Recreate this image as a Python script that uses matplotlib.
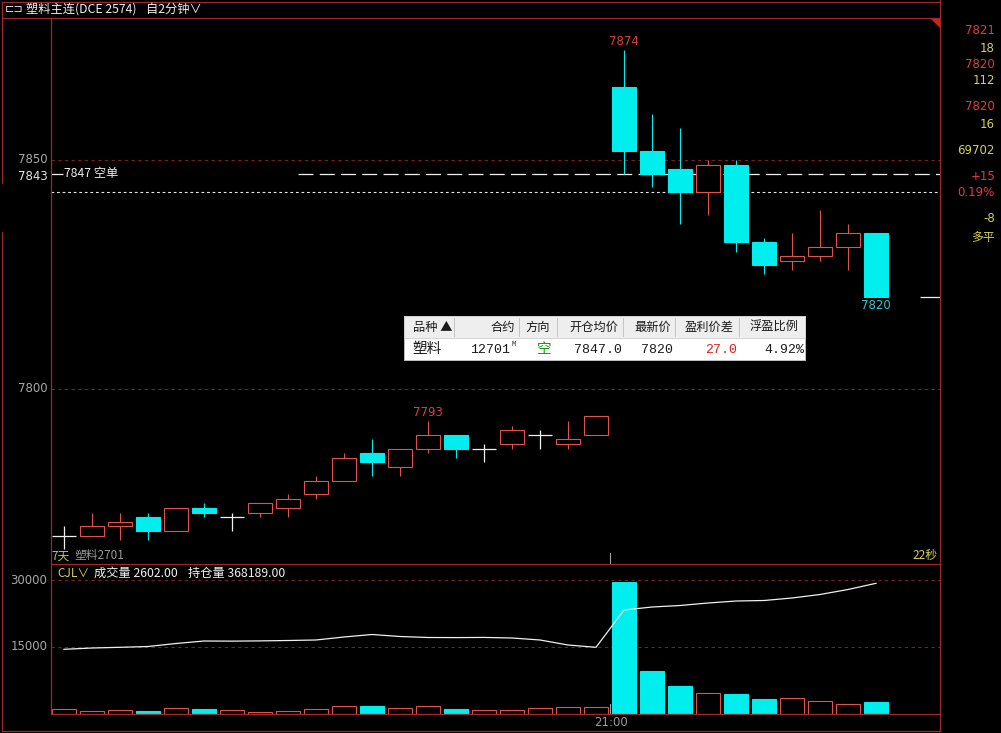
import matplotlib
matplotlib.use('Agg')
import matplotlib.pyplot as plt
from matplotlib.patches import Rectangle, Polygon
from matplotlib.lines import Line2D
from matplotlib.transforms import Affine2D

plt.rcParams['font.family'] = ['Noto Sans CJK SC', 'DejaVu Sans']

# ---------------- data ----------------
opens  = [7768, 7768, 7770, 7772, 7769, 7774, 7772, 7773, 7774, 7777,
          7780, 7786, 7783, 7787, 7790, 7787, 7788, 7790, 7788, 7790,
          7866, 7852, 7848, 7843, 7849, 7832, 7828, 7829, 7831, 7834]
highs  = [7770, 7773, 7773, 7773, 7774, 7775, 7773, 7775, 7777, 7781,
          7786, 7789, 7787, 7793, 7790, 7788, 7792, 7791, 7793, 7794,
          7874, 7860, 7857, 7850, 7850, 7833, 7834, 7839, 7836, 7834]
lows   = [7765, 7768, 7767, 7767, 7769, 7772, 7769, 7772, 7772, 7776,
          7780, 7781, 7781, 7786, 7785, 7784, 7787, 7787, 7787, 7790,
          7847, 7844, 7836, 7838, 7830, 7825, 7826, 7828, 7826, 7820]
closes = [7768, 7770, 7771, 7769, 7774, 7773, 7772, 7775, 7776, 7780,
          7785, 7784, 7787, 7790, 7787, 7787, 7791, 7790, 7789, 7794,
          7852, 7847, 7843, 7849, 7832, 7827, 7829, 7831, 7834, 7820]
volumes = [1120, 670, 900, 740, 1340, 1120, 900, 520, 670, 1120,
           1790, 1860, 1340, 1790, 1190, 900, 900, 1340, 1640, 1640,
           29460, 9700, 6340, 4700, 4550, 3430, 3580, 2910, 2240, 2602]
open_interest = [363899, 363983, 364029, 364081, 364276, 364438, 364430, 364445, 364471, 364504,
                 364699, 364861, 364731, 364666, 364660, 364670, 364634, 364504, 364179, 364029,
                 366453, 366648, 366746, 366908, 367038, 367071, 367234, 367461, 367786, 368189]
high_marks = [13, 20]
low_marks = [29]
session_break = 19.5
session_label = '21:00'
price_ticks = [7800, 7850]
volume_ticks = [15000, 30000]
entry_price = 7847
ref_price = 7843

title_text = '塑料主连(DCE 2574)'
period_text = '自2分钟∨'
right_panel_texts = ['7821', '18', '7820', '112', '7820', '16', '69702', '+15', '0.19%', '-8', '多平']
right_panel_kinds = ['r', 'y', 'r', 'y', 'r', 'y', 'y', 'r', 'r', 'y', 'y']

table_headers = ['品种 ▲', '合约', '方向', '开仓均价', '最新价', '盈利价差', '浮盈比例']
table_row = ['塑料', '12701', '空', '7847.0', '7820', '27.0', '4.92%']

# ---------------- style ----------------
W, H = 1001, 733
BG = '#000000'
FRAME = '#a02828'
GRID = '#7a2020'
UP = '#e0524a'
DOWN = '#00eeee'
DOJI = '#f0f0f0'
AXTXT = '#a8a8a8'
RED_T = '#e03c3c'
YEL_T = '#d6d05a'

fig = plt.figure(figsize=(W / 100, H / 100), dpi=100, facecolor=BG)
T = Affine2D().scale(1 / W, -1 / H).translate(0, 1) + fig.transFigure


def pline(xs, ys, **kw):
    fig.add_artist(Line2D(xs, ys, transform=T, **kw))


def ptext(x, y, s, **kw):
    kw.setdefault('va', 'center')
    fig.text(x, y, s, transform=T, **kw)


X0, X1 = 51, 940
MAIN_TOP, MAIN_BOT = 18, 564
VOL_TOP, VOL_BOT = 564, 714
PX_PER_BAR = 28.0
xmin = -(64 - X0) / PX_PER_BAR
xmax = xmin + (X1 - X0) / PX_PER_BAR

ax = fig.add_axes([X0 / W, 1 - MAIN_BOT / H, (X1 - X0) / W, (MAIN_BOT - MAIN_TOP) / H])
ax.set_xlim(xmin, xmax)
ax.set_ylim(7761.79, 7881.0)
ax.axis('off')

axv = fig.add_axes([X0 / W, 1 - VOL_BOT / H, (X1 - X0) / W, (VOL_BOT - VOL_TOP) / H])
axv.set_xlim(xmin, xmax)
axv.set_ylim(0, 150 * 15000 / 67)
axv.axis('off')

axo = axv.twinx()
axo.set_xlim(xmin, xmax)
axo.set_ylim(359693, 369444)
axo.axis('off')

# grid lines
for p in price_ticks:
    ax.axhline(p, color=GRID, lw=0.8, ls=(0, (3, 3)), zorder=1)
    ax.annotate(str(p), (xmin, p), xytext=(-2.5, 0), textcoords='offset points',
                ha='right', va='center', color=AXTXT, fontsize=8.5,
                family='DejaVu Sans', annotation_clip=False)
for v in volume_ticks:
    axv.axhline(v, color=GRID, lw=0.8, ls=(0, (3, 3)), zorder=1)
    axv.annotate(str(v), (xmin, v), xytext=(-2.5, 0), textcoords='offset points',
                 ha='right', va='center', color=AXTXT, fontsize=8.5,
                 family='DejaVu Sans', annotation_clip=False)

# reference lines
ax.axhline(ref_price, color='#e8e8e8', lw=0.8, ls=(0, (2.5, 2.5)), zorder=2)
x_dash_start = (298 - 64) / PX_PER_BAR
ax.hlines(entry_price, x_dash_start, xmax, color='#f0f0f0', lw=0.9,
          linestyles=[(0, (12, 5))], zorder=2)
ax.hlines(entry_price, xmin, xmin + 12 / PX_PER_BAR, color='#f0f0f0', lw=0.9, zorder=2)
ax.annotate(f'{entry_price} 空单', (xmin + 12 / PX_PER_BAR, entry_price), xytext=(1, 0),
            textcoords='offset points', ha='left', va='center', color='#f0f0f0', fontsize=8.8)

# candles
w = 0.88
for i, (o, h, l, c) in enumerate(zip(opens, highs, lows, closes)):
    if c > o:
        ax.add_patch(Rectangle((i - w / 2, o), w, c - o, facecolor=BG, edgecolor=UP, lw=0.8, zorder=3))
        if h > c:
            ax.vlines(i, c, h, color=UP, lw=0.8, zorder=3)
        if l < o:
            ax.vlines(i, l, o, color=UP, lw=0.8, zorder=3)
    elif c < o:
        ax.vlines(i, l, h, color=DOWN, lw=0.8, zorder=3)
        ax.add_patch(Rectangle((i - w / 2, c), w, o - c, facecolor=DOWN, edgecolor=DOWN, lw=0.8, zorder=4))
    else:
        ax.vlines(i, l, h, color=DOJI, lw=0.9, zorder=3)
        ax.hlines(o, i - w / 2, i + w / 2, color=DOJI, lw=0.9, zorder=3)

for i in high_marks:
    ax.annotate(str(highs[i]), (i, highs[i]), xytext=(0, 6), textcoords='offset points',
                ha='center', va='center', color=RED_T, fontsize=8.5, family='DejaVu Sans')
for i in low_marks:
    ax.annotate(str(lows[i]), (i, lows[i]), xytext=(0, -6), textcoords='offset points',
                ha='center', va='center', color='#30c8d0', fontsize=8.5, family='DejaVu Sans')

# last price marker
ax.hlines(closes[-1], (920 - 64) / PX_PER_BAR, xmax, color='#f0f0f0', lw=0.9)

# volume bars
for i, v in enumerate(volumes):
    if closes[i] < opens[i]:
        axv.add_patch(Rectangle((i - w / 2, 0), w, v, facecolor=DOWN, edgecolor=DOWN, lw=0.8, zorder=3))
    else:
        axv.add_patch(Rectangle((i - w / 2, 0), w, v, facecolor=BG, edgecolor=UP, lw=0.8, zorder=3))

axo.plot(range(len(open_interest)), open_interest, color='#f0f0f0', lw=0.9, zorder=5)

# session break ticks
xb = 64 + session_break * PX_PER_BAR
pline([xb, xb], [553, 564], color='#a0a0a0', lw=0.8)
pline([xb, xb], [704, 714], color='#a0a0a0', lw=0.8)
ptext(xb + 1, 723, session_label, ha='center', color='#9a9a9a', fontsize=8.5, family='DejaVu Sans')

# ---------------- frame ----------------
pline([2, 940], [1.5, 1.5], color=FRAME, lw=0.9)
pline([2, 940], [18, 18], color=FRAME, lw=0.9)
pline([2, 2], [1.5, 183], color=FRAME, lw=0.9)
pline([2, 2], [232, 731], color=FRAME, lw=0.9)
pline([2, 940], [731, 731], color=FRAME, lw=0.9)
pline([940, 940], [0, 731], color=FRAME, lw=0.9)
pline([51, 51], [18, 714], color=FRAME, lw=0.9)
pline([51, 940], [564, 564], color=FRAME, lw=0.9)
pline([51, 940], [714, 714], color=FRAME, lw=0.9)
fig.add_artist(Polygon([[930, 18], [940, 18], [940, 28]], closed=True, transform=T,
                       facecolor='#d02020', edgecolor='none'))

# ---------------- header ----------------
ptext(5, 9.5, '⊏⊐', ha='left', color='#e0e0e0', fontsize=8, family='DejaVu Sans')
ptext(26, 9.5, title_text, ha='left', color='#f0f0f0', fontsize=8.8)
ptext(146, 9.5, period_text, ha='left', color='#f0f0f0', fontsize=8.8)

# left axis current label
ptext(48, 176, str(ref_price), ha='right', color='#e6e6e6', fontsize=8.5, family='DejaVu Sans')

# contract label
ptext(51, 556, '7天', ha='left', color='#b8d040', fontsize=8.5)
ptext(74, 556, '塑料2701', ha='left', color='#9a9a9a', fontsize=8.5)
ptext(937, 555, '22秒', ha='right', color=YEL_T, fontsize=8.5)

# volume header
ptext(57, 573, 'CJL∨', ha='left', color=YEL_T, fontsize=8.5)
ptext(94, 573, f'成交量 {volumes[-1]:.2f}', ha='left', color='#f0f0f0', fontsize=8.8)
ptext(188, 573, f'持仓量 {open_interest[-1]:.2f}', ha='left', color='#f0f0f0', fontsize=8.8)

# right panel
rp_y = [31, 48, 64, 81, 107, 124, 151, 176, 193, 219, 237]
for y, s, k in zip(rp_y, right_panel_texts, right_panel_kinds):
    ptext(995, y, s, ha='right', color=RED_T if k == 'r' else YEL_T, fontsize=8.5,
          family=['DejaVu Sans', 'Noto Sans CJK SC'] if s != '多平' else 'Noto Sans CJK SC')

# ---------------- table ----------------
tx0, tx1 = 404, 805
ty0, ty1, ty2 = 316, 338, 360
fig.add_artist(Rectangle((tx0, ty0), tx1 - tx0, ty2 - ty0, transform=T, facecolor='#ffffff',
                         edgecolor='#c8c8c8', lw=0.6))
fig.add_artist(Rectangle((tx0, ty0), tx1 - tx0, ty1 - ty0, transform=T, facecolor='#eeeeee',
                         edgecolor='#d0d0d0', lw=0.6))
col_seps = [454, 519, 557, 623, 675, 739]
for xs in col_seps:
    pline([xs, xs], [ty0 + 2, ty1 - 2], color='#c4c4c4', lw=0.7)
hy = (ty0 + ty1) / 2
hdr_pos = [(413, 'left'), (515, 'right'), (538, 'center'), (618, 'right'),
           (671, 'right'), (734, 'right'), (799, 'right')]
for (x, ha), s in zip(hdr_pos, table_headers):
    ptext(x, hy, s, ha=ha, color='#1a1a1a', fontsize=8.8)
ry = (ty1 + ty2) / 2
ptext(412, ry, table_row[0], ha='left', color='#1a1a1a', fontsize=10.5)
ptext(510, ry + 1, table_row[1], ha='right', color='#1a1a1a', fontsize=9.5, family='Liberation Mono')
ptext(511, ry - 4, 'M', ha='left', color='#1a1a1a', fontsize=5, family='Liberation Mono')
ptext(544, ry, table_row[2], ha='center', color='#10a010', fontsize=10.5)
ptext(622, ry + 1, table_row[3], ha='right', color='#1a1a1a', fontsize=9.5, family='Liberation Mono')
ptext(673, ry + 1, table_row[4], ha='right', color='#1a1a1a', fontsize=9.5, family='Liberation Mono')
ptext(737, ry + 1, table_row[5], ha='right', color='#e02020', fontsize=9.5, family='Liberation Mono')
ptext(804, ry + 1, table_row[6], ha='right', color='#1a1a1a', fontsize=9.5, family='Liberation Mono')

fig.savefig('out.png', dpi=100, facecolor=BG)
